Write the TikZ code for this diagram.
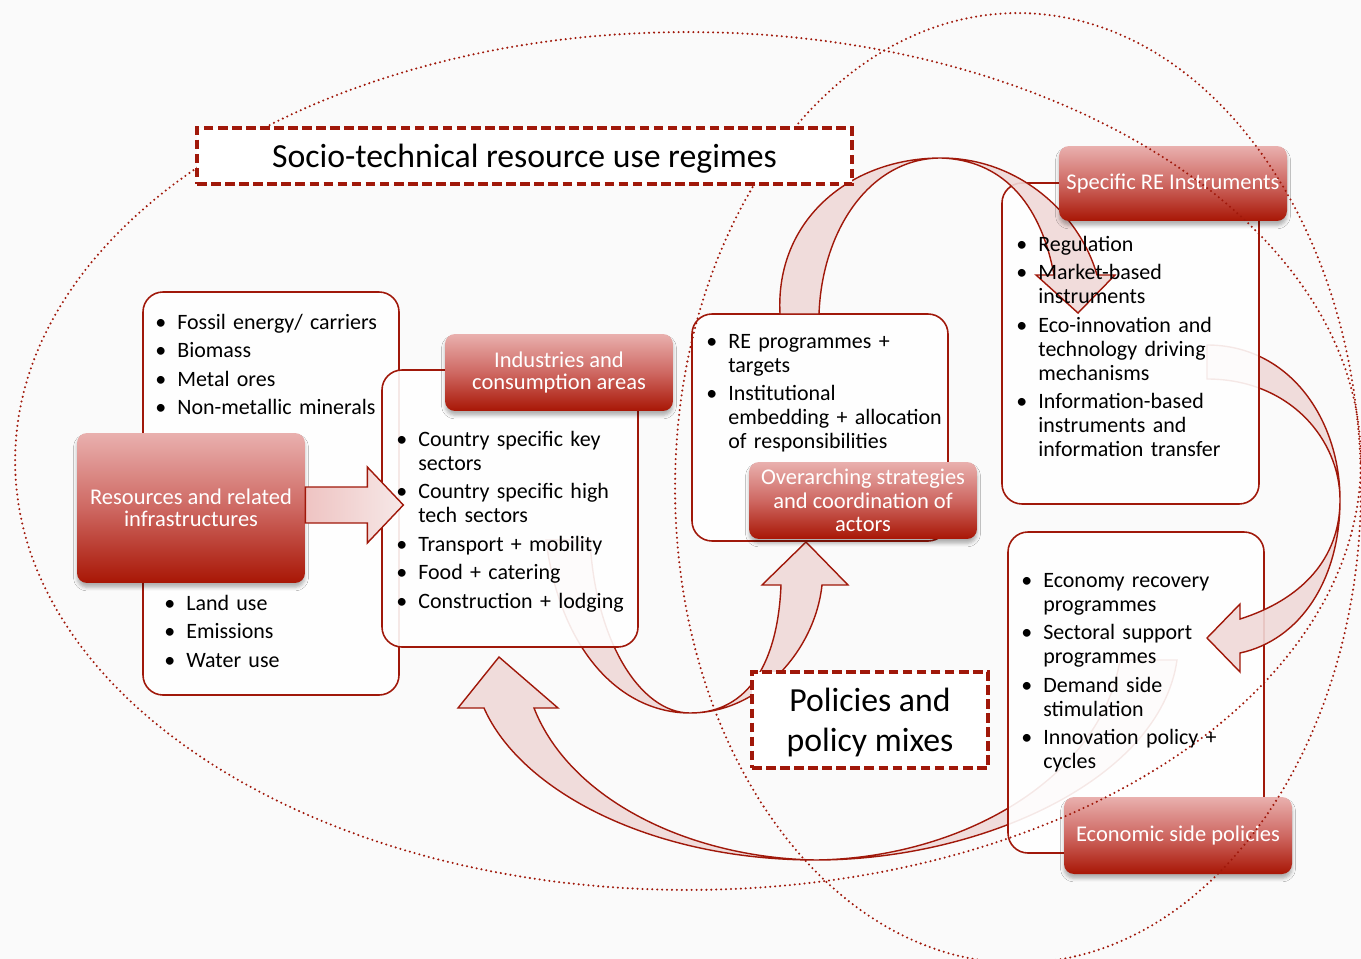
\documentclass[tikz,border=0pt]{standalone}
\usepackage{fontspec}
\setmainfont{Carlito}
\usepackage{enumitem}
\usetikzlibrary{fit}
\usetikzlibrary{shadows.blur}

\definecolor{regimered}{RGB}{160,24,10}
\definecolor{boxtop}{RGB}{233,176,174}
\definecolor{boxmid}{RGB}{206,104,98}
\definecolor{boxbottom}{RGB}{168,22,5}
\definecolor{ribbonpink}{RGB}{240,217,216}
\definecolor{paper}{RGB}{250,250,250}

\setlist[itemize]{label=\strut\textbullet, align=left, labelindent=0pt, labelwidth=0.44cm,
  labelsep=0pt, leftmargin=0.44cm, topsep=0pt, partopsep=0pt, parsep=0pt, itemsep=2.56pt}

\tikzset{
  listbox/.style={draw=regimered, line width=0.9pt, rounded corners=0.4cm, fill=white,
    fill opacity=0.9, inner sep=0pt},
  headbox/.style={rounded corners=0.2cm, top color=boxtop, bottom color=boxbottom,
    middle color=boxmid, text=white, align=center, inner sep=0pt,
    minimum width=4.56cm, minimum height=1.54cm,
    font=\fontsize{12.8}{12.6}\selectfont,
    blur shadow={shadow xshift=0pt, shadow yshift=-2.5pt, shadow opacity=30, shadow blur radius=2pt}},
  titlebox/.style={draw=regimered, line width=1.8pt, dash pattern=on 5.5pt off 2.5pt,
    fill=white, inner sep=0pt, align=center, text depth=0pt, font=\fontsize{19.2}{22.8}\selectfont},
  listtext/.style={anchor=north west, inner sep=0pt, text width=6cm, align=left,
    font=\fontsize{12.5}{13.66}\selectfont},
  ribbon/.style={draw=regimered, line width=0.8pt, fill=ribbonpink, fill opacity=0.9},
  feedarrow/.style={draw=regimered, line width=0.8pt, left color=boxtop!75!white,
    right color=ribbonpink!60!white},
  ellipseline/.style={regimered, line width=1.3pt, dash pattern=on 0pt off 2.8pt, line cap=round}
}

\begin{document}
\begin{tikzpicture}[x=0.02cm, y=-0.02cm]
  % Canvas
  \useasboundingbox[fill=paper] (0,0) rectangle (1361,959);

  % Curved arrows lying under the boxes
  \draw[ribbon] (1177,660) .. controls (1160,780) and (980,860) .. (816,860)
    .. controls (650,860) and (520,790) .. (484,708)
    -- (458,708) -- (499,657) -- (558,708) -- (534,708)
    .. controls (570,800) and (690,858) .. (816,860)
    .. controls (960,858) and (1100,780) .. (1120,660) -- cycle;
  \draw[ribbon] (546,540) .. controls (560,650) and (620,713) .. (690,713)
    .. controls (760,713) and (815,650) .. (822,585)
    -- (848,585) -- (806,542) -- (762,585) -- (781,585)
    .. controls (778,660) and (750,713) .. (690,713)
    .. controls (640,713) and (595,640) .. (590,540) -- cycle;

  % Boxes holding the lists
  \node[listbox, fit={(143,292) (399,695)}] (rawbox) {};
  \node[listbox, fit={(382,370) (638,647)}] (sectorbox) {};
  \node[listbox, fit={(692,314) (948,541)}] (progbox) {};
  \node[listbox, fit={(1008,532) (1264,853)}] (econbox) {};

  % Arrow from the instruments down to the economic side
  \draw[ribbon] (1207,345) .. controls (1290,345) and (1340,420) .. (1340,500)
    .. controls (1340,580) and (1300,640) .. (1240,653)
    -- (1240,672) -- (1207,638) -- (1240,604) -- (1240,619)
    .. controls (1300,600) and (1340,560) .. (1340,500)
    .. controls (1340,440) and (1290,379) .. (1207,379) -- cycle;

  \node[listbox, fit={(1002,183) (1259,504)}] (instbox) {};

  % Arch from the programmes over to the instruments
  \draw[ribbon] (780,314) .. controls (775,220) and (850,158) .. (941,158)
    .. controls (1020,158) and (1080,215) .. (1097,275)
    -- (1115,275) -- (1078,313) -- (1036,275) -- (1054,275)
    .. controls (1040,200) and (1000,160) .. (941,158)
    .. controls (870,158) and (822,230) .. (819,314) -- cycle;

  % Shaded headings
  \node[headbox, minimum height=3cm, font=\fontsize{12.8}{12.5}\selectfont] (resources) at (191,508)
    {Resources and related\\infrastructures};
  \node[headbox] (industries) at (559,372.5) {Industries and\\consumption areas};
  \node[headbox, font=\fontsize{12.8}{13.3}\selectfont] (strategies) at (863,500.5)
    {Overarching strategies\\and coordination of\\actors};
  \node[headbox, minimum height=1.5cm] (instruments) at (1173,183.5) {Specific RE Instruments};
  \node[headbox] (economic) at (1178,835.5) {Economic side policies};

  % Block arrow from resources to industries
  \draw[feedarrow] (resources.east) ++(0,-21) -- ++(62,0) -- ++(0,-20) -- ++(36,38)
    -- ++(-36,38) -- ++(0,-20) -- ++(-62,0) -- cycle;

  % Dotted ellipses
  \draw[ellipseline] (688,461) ellipse [x radius=13.46cm, y radius=8.58cm];
  \draw[ellipseline] (1018,488) ellipse [x radius=6.86cm, y radius=9.5cm];

  % Lists
  \node[listtext] (rawtop) at (155,305) {\begin{itemize}
    \item Fossil energy/ carriers
    \item Biomass
    \item Metal ores
    \item Non-metallic minerals
  \end{itemize}};
  \node[listtext] (rawbottom) at (164,586) {\begin{itemize}
    \item Land use
    \item Emissions
    \item Water use
  \end{itemize}};
  \node[listtext] (sectors) at (396,422) {\begin{itemize}
    \item Country specific key\\sectors
    \item Country specific high\\tech sectors
    \item Transport + mobility
    \item Food + catering
    \item Construction + lodging
  \end{itemize}};
  \node[listtext] (programmes) at (706,324) {\begin{itemize}
    \item RE programmes +\\targets
    \item Institutional\\embedding + allocation\\of responsibilities
  \end{itemize}};
  \node[listtext] (instlist) at (1016,227) {\begin{itemize}
    \item Regulation
    \item Market-based\\instruments
    \item Eco-innovation and\\technology driving\\mechanisms
    \item Information-based\\instruments and\\information transfer
  \end{itemize}};
  \node[listtext] (econlist) at (1021,563) {\begin{itemize}
    \item Economy recovery\\programmes
    \item Sectoral support\\programmes
    \item Demand side\\stimulation
    \item Innovation policy +\\cycles
  \end{itemize}};

  % Dashed title boxes
  \node[titlebox, minimum width=13.1cm, minimum height=1.12cm] (regimes) at (524.5,156)
    {Socio-technical resource use regimes};
  \node[titlebox, minimum width=4.72cm, minimum height=1.92cm] (policies) at (870,720)
    {Policies and\\policy mixes};
\end{tikzpicture}
\end{document}
